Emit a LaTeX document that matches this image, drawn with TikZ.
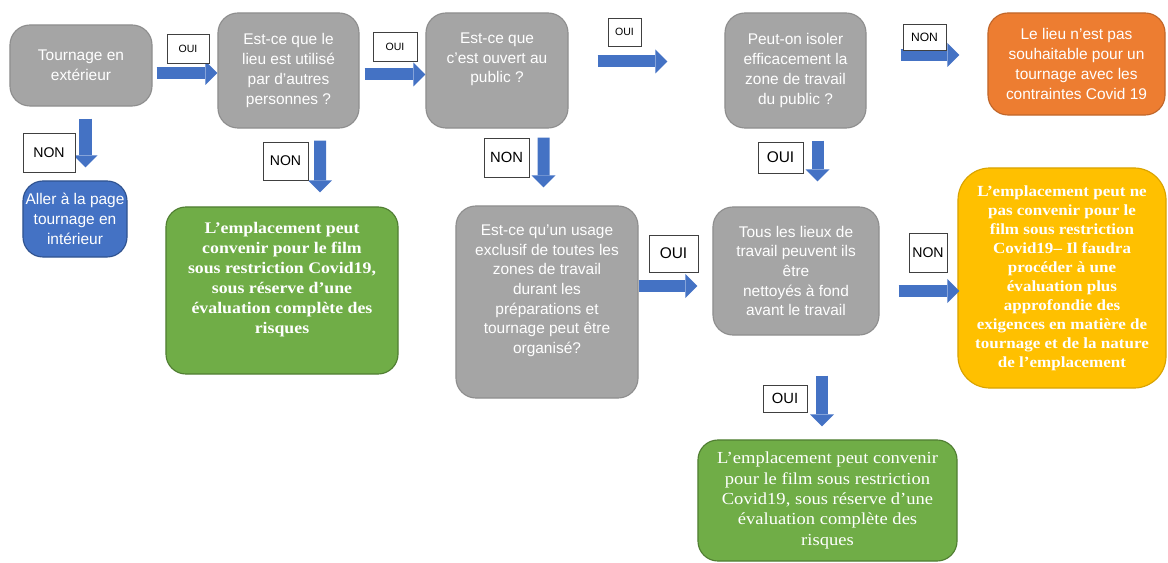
\documentclass[tikz,border=0pt]{standalone}
\usepackage{fontspec}
\setmainfont{Liberation Sans}
\newfontfamily\boxserif[FakeStretch=1.1]{Liberation Serif}
\usetikzlibrary{arrows.meta,positioning,calc}

\definecolor{boxgrey}{HTML}{A5A5A5}
\definecolor{boxgreyline}{HTML}{8E8E8E}
\definecolor{flowblue}{HTML}{4472C4}
\definecolor{flowblueline}{HTML}{2F528F}
\definecolor{okgreen}{HTML}{70AD47}
\definecolor{okgreenline}{HTML}{507E32}
\definecolor{stoporange}{HTML}{ED7D31}
\definecolor{stoporangeline}{HTML}{C0662A}
\definecolor{warnyellow}{HTML}{FFC000}
\definecolor{warnyellowline}{HTML}{D9A300}

\begin{document}
\begin{tikzpicture}[
    x=0.025cm, y=-0.025cm, % 1 unité = 1 pixel, y vers le bas
    font=\fontsize{11}{14}\selectfont, % texte des cases
    % --- styles des cases ---
    % case de base arrondie
    base box/.style={
        rounded corners=0.5cm,
        line width=0.8pt,
        text=white,
        align=center,
        inner sep=1pt
    },
    question box/.style={base box, draw=boxgreyline, fill=boxgrey},
    page box/.style={base box, draw=flowblueline, fill=flowblue},
    stop box/.style={base box, draw=stoporangeline, fill=stoporange},
    ok box/.style={base box, draw=okgreenline, fill=okgreen,
        font=\boxserif\bfseries\fontsize{11.5}{14.2}\selectfont},
    warn box/.style={base box, draw=warnyellowline, fill=warnyellow,
        rounded corners=0.8cm,
        font=\boxserif\bfseries\fontsize{11}{13.5}\selectfont},
    % --- étiquettes OUI / NON ---
    tag/.style={
        draw=black!75,
        fill=white,
        line width=0.6pt,
        inner sep=0pt,
        font=\fontsize{10.5}{12}\selectfont
    },
    small tag/.style={tag, font=\fontsize{7.5}{9}\selectfont},
    % --- flèches bleues ---
    flow/.style={
        draw=flowblue,
        line width=0.3cm,
        -{Triangle[length=0.3cm, width=0.6cm, line width=0pt]}
    }
]

    \useasboundingbox (0,0) rectangle (1168,563);

    % ====== Ligne du haut ======
    \node[question box, minimum width=3.55cm, minimum height=2.025cm] (tournage) at (81,65.5)
        {Tournage en\\extérieur};
    \node[question box, minimum width=3.525cm, minimum height=2.875cm] (lieu) at (288.5,70.5)
        {Est-ce que le\\lieu est utilisé\\par d’autres\\personnes ?};
    \node[question box, minimum width=3.55cm, minimum height=2.875cm] (public) at (497,70.5)
        {Est-ce que\\c’est ouvert au\\public ?\\\strut};
    \node[question box, minimum width=3.525cm, minimum height=2.875cm] (isoler) at (795.5,70.5)
        {Peut-on isoler\\efficacement la\\zone de travail\\du public ?};
    \node[stop box, minimum width=4.425cm, minimum height=2.55cm] (pas souhaitable) at (1076.5,64)
        {Le lieu n’est pas\\souhaitable pour un\\tournage avec les\\contraintes Covid 19};

    % ====== Ligne du milieu ======
    \node[page box, minimum width=2.6cm, minimum height=1.9cm] (interieur) at (75,219)
        {Aller à la page\\tournage en\\intérieur};
    \node[ok box, minimum width=5.8cm, minimum height=4.175cm] (convient a) at (282,290.5)
        {L’emplacement peut\\convenir pour le film\\sous restriction Covid19,\\sous réserve d’une\\évaluation complète des\\risques\\\strut};
    \node[question box, minimum width=4.55cm, minimum height=4.8cm] (usage) at (547,302)
        {Est-ce qu’un usage\\exclusif de toutes les\\zones de travail\\durant les\\préparations et\\tournage peut être\\organisé?\\\strut};
    \node[question box, minimum width=4.15cm, minimum height=3.2cm] (nettoyes) at (796,271)
        {Tous les lieux de\\travail peuvent ils\\être\\nettoyés à fond\\avant le travail};
    \node[warn box, minimum width=5.2cm, minimum height=5.5cm] (ne convient pas) at (1062,278)
        {L’emplacement peut ne\\pas convenir pour le\\film sous restriction\\Covid19– Il faudra\\procéder à une\\évaluation plus\\approfondie des\\exigences en matière de\\tournage et de la nature\\de l’emplacement};

    % ====== Ligne du bas ======
    \node[ok box, minimum width=6.475cm, minimum height=3.025cm,
        font=\boxserif\fontsize{12}{14.5}\selectfont] (convient b) at (827.5,500.5)
        {L’emplacement peut convenir\\pour le film sous restriction\\Covid19, sous réserve d’une\\évaluation complète des\\risques};

    % ====== Flèches ======
    \draw[flow] ($(tournage.east)+(4,7.5)$) -- ($(lieu.west)+(0,2.5)$);
    \draw[flow] ($(lieu.east)+(5,4)$) -- ($(public.west)+(0,4)$);
    \draw[flow] ($(public.east)+(29,-9)$) -- ($(isoler.west)+(-57,-9)$);
    \draw[flow] ($(isoler.east)+(34,-15.5)$) -- ($(pas souhaitable.west)+(-28,-9)$);
    \draw[flow] ($(tournage.south)+(4.5,12)$) -- ($(interieur.north)+(10.5,-13)$);
    \draw[flow] ($(lieu.south)+(31.5,12)$) -- ($(convient a.north)+(38,-14)$);
    \draw[flow] ($(public.south)+(46.5,9)$) -- ($(usage.north)+(-3.5,-18)$);
    \draw[flow] ($(isoler.south)+(22,12)$) -- ($(nettoyes.north)+(21.5,-25)$);
    \draw[flow] ($(usage.east)+(0,-16)$) -- ($(nettoyes.west)+(-15,15)$);
    \draw[flow] ($(nettoyes.east)+(19,20)$) -- ($(ne convient pas.west)+(2,13)$);
    \draw[flow] ($(nettoyes.south)+(26,40)$) -- ($(convient b.north)+(-5.5,-13)$);

    % ====== Étiquettes ======
    \node[small tag, minimum width=1.05cm, minimum height=0.725cm] (oui lieu) at (188,48.5) {OUI};
    \node[small tag, minimum width=1.1cm, minimum height=0.725cm] (oui public) at (395,46.5) {OUI};
    \node[small tag, minimum width=0.825cm, minimum height=0.7cm] (oui isoler) at (624.5,32) {OUI};
    \node[tag, minimum width=1.075cm, minimum height=0.65cm, font=\fontsize{8.6}{10}\selectfont] (non isoler) at (924.5,37) {NON};
    \node[tag, minimum width=1.3cm, minimum height=0.975cm, font=\fontsize{10}{12}\selectfont] (non tournage) at (49,152.5) {NON};
    \node[tag, minimum width=1.125cm, minimum height=0.95cm, font=\fontsize{10}{12}\selectfont] (non lieu) at (285.5,161) {NON};
    \node[tag, minimum width=1.125cm, minimum height=0.975cm] (non public) at (506.5,157.5) {NON};
    \node[tag, minimum width=1.125cm, minimum height=0.775cm, font=\fontsize{11}{13}\selectfont] (oui nettoyes) at (780.5,157.5) {OUI};
    \node[tag, minimum width=1.225cm, minimum height=0.925cm, font=\fontsize{11}{13}\selectfont] (oui usage) at (673.5,253.5) {OUI};
    \node[tag, minimum width=0.95cm, minimum height=0.975cm, font=\fontsize{10}{12}\selectfont] (non nettoyes) at (928,252.5) {NON};
    \node[tag, minimum width=1.1cm, minimum height=0.675cm] (oui fin) at (785,398.5) {OUI};

\end{tikzpicture}
\end{document}
